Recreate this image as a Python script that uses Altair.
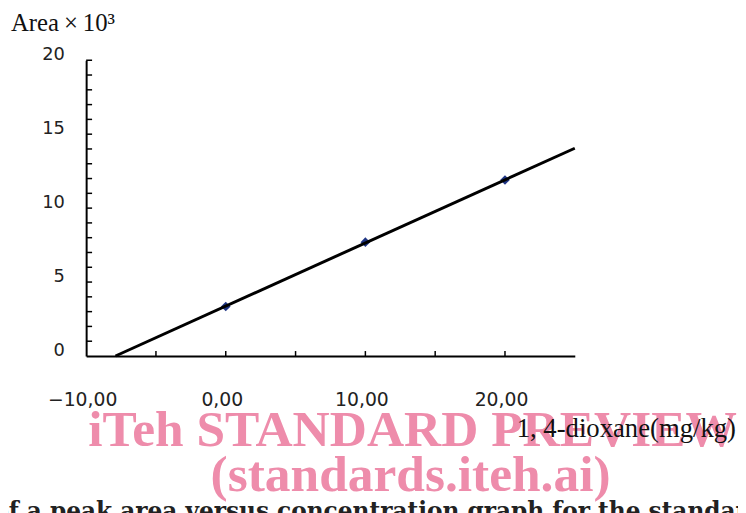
import altair as alt
import pandas as pd

# ---- data ----
std_conc = [0.0, 10.0, 20.0]            # 1,4-dioxane (mg/kg)
std_area = [3.35, 7.7, 11.9]            # Area x 10^3
fit_x = [-7.9, 25.0]                    # calibration line end points
fit_y = [0.0, 14.05]
x_label_values = [-10, 0, 10, 20]
x_label_texts = ["\u221210,00", "0,00", "10,00", "20,00"]
y_label_values = [0, 5, 10, 15, 20]
x_minor_ticks = [-5, 0, 5, 10, 15, 20]
y_minor_ticks = list(range(1, 21))
y_title = "Area\u2009\u00d7\u200910\u00b3"
x_title = "1, 4-dioxane(mg/kg)"
watermark = ["iTeh STANDARD PREVIEW", "(standards.iteh.ai)"]
caption = "of a peak area versus concentration graph for the standard"

W, H = 494, 299

xscale = alt.Scale(domain=[-10, 25], nice=False, zero=False)
yscale = alt.Scale(domain=[0, 20], nice=False, zero=False)

x_expr = " : ".join(
    f"datum.value == {v} ? '{t}'" for v, t in zip(x_label_values, x_label_texts)
) + " : ''"

pts = pd.DataFrame({"x": std_conc, "y": std_area})
fit = pd.DataFrame({"x": fit_x, "y": fit_y})

base_axes = alt.Chart(fit).mark_line(opacity=0).encode(
    x=alt.X("x:Q", scale=xscale, title=None,
            axis=alt.Axis(values=x_label_values, labelExpr=x_expr, ticks=False,
                          grid=False, domainColor="black", domainWidth=2,
                          labelFont="DejaVu Sans", labelFontSize=19, labelFlush=False,
                          labelOverlap=False,
                          labelColor="#222", labelPadding=35, labelOffset=-4)),
    y=alt.Y("y:Q", scale=yscale, title=None,
            axis=alt.Axis(values=y_label_values, ticks=False, grid=False,
                          domainColor="black", domainWidth=2, labelFlush=False,
                          labelOverlap=False,
                          labelFont="DejaVu Sans", labelFontSize=18,
                          labelColor="#222", labelPadding=22, labelOffset=-6)),
)

xt = alt.Chart(pd.DataFrame({"v": x_minor_ticks})).mark_rule(color="black", strokeWidth=1.5).encode(
    x=alt.X("v:Q", scale=xscale), y=alt.value(H), y2=alt.value(H - 5))
yt = alt.Chart(pd.DataFrame({"v": y_minor_ticks})).mark_rule(color="black", strokeWidth=1.5).encode(
    y=alt.Y("v:Q", scale=yscale), x=alt.value(0), x2=alt.value(6))

points = alt.Chart(pts).mark_point(shape="diamond", filled=True, size=95,
                                   color="#1f3584", opacity=1).encode(
    x=alt.X("x:Q", scale=xscale), y=alt.Y("y:Q", scale=yscale))

line = alt.Chart(fit).mark_line(color="black", strokeWidth=3).encode(
    x=alt.X("x:Q", scale=xscale), y=alt.Y("y:Q", scale=yscale))


def label(txt, x, y, **kw):
    return alt.Chart(pd.DataFrame({"t": [txt]})).mark_text(**kw).encode(
        x=alt.value(x), y=alt.value(y), text="t:N")


ytitle = label(y_title, -76, -30, align="left", baseline="alphabetic",
               font="Liberation Serif", fontSize=25, color="#111")
xtitle = label(x_title, 657, 381, align="right", baseline="alphabetic",
               font="Liberation Serif", fontSize=27, color="#111")
cap = label(caption, -94, 464, align="left", baseline="alphabetic",
            font="DejaVu Serif", fontWeight="bold", fontSize=23.5, color="#222")
wm1 = label(watermark[0], 330, 390, align="center", baseline="alphabetic",
            font="Liberation Serif", fontWeight="bold", fontSize=52, color="#EE8CAB")
wm2 = label(watermark[1], 328, 435, align="center", baseline="alphabetic",
            font="Liberation Serif", fontWeight="bold", fontSize=52, color="#EE8CAB")

chart = alt.layer(base_axes, xt, yt, points, line, ytitle, cap, wm1, wm2, xtitle).properties(
    width=W, height=H,
    background="white",
    autosize=alt.AutoSizeParams(type="none"),
    padding={"left": 79, "top": 50, "right": 738 - 79 - W, "bottom": 513 - 50 - H},
).configure_view(strokeWidth=0, stroke="transparent")

chart.save("out.html", embed_options={"renderer": "svg", "actions": False})
